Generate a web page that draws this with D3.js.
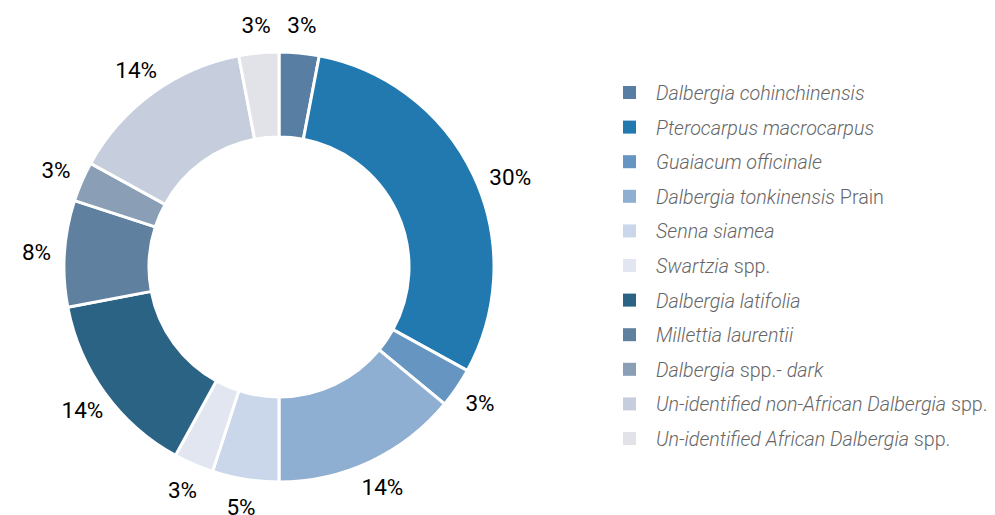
<!DOCTYPE html>
<html>
<head>
<meta charset="utf-8">
<script src="https://cdn.jsdelivr.net/npm/d3@7"></script>
<style>
  body { margin: 0; background: #fff; }
  svg { display: block; font-family: Roboto, "Noto Sans", sans-serif; }
</style>
</head>
<body>
<svg width="995" height="515"></svg>
<script>
// species (name split in italic / plain parts), share in %, slice colour
const species = [
    [["Dalbergia cohinchinensis", true]],
    [["Pterocarpus macrocarpus", true]],
    [["Guaiacum officinale", true]],
    [["Dalbergia tonkinensis", true], [" Prain", false]],
    [["Senna siamea", true]],
    [["Swartzia", true], [" spp.", false]],
    [["Dalbergia latifolia", true]],
    [["Millettia laurentii", true]],
    [["Dalbergia", true], [" spp.- ", false], ["dark", true]],
    [["Un-identified non-African ", true], ["Dalbergia", true], [" spp.", false]],
    [["Un-identified African ", true], ["Dalbergia", true], [" spp.", false]]
];
const shares = [3, 30, 3, 14, 5, 3, 14, 8, 3, 14, 3];
const colors = ["#587ea3", "#2179b0", "#6595c0", "#8eaed2", "#cad7ea", "#e2e6f0",
                "#2b6384", "#5f819f", "#8a9eb6", "#c6cedd", "#e1e3e9"];

const svg = d3.select("svg");
const cx = 279, cy = 267;
const outerR = 215, innerR = 130, labelR = 243;

const data = shares.map((v, i) => ({ i, v }));
const pie = d3.pie().value(d => d.v).sort(null);
const arc = d3.arc().innerRadius(innerR).outerRadius(outerR);
const labelArc = d3.arc().innerRadius(labelR).outerRadius(labelR);

const g = svg.append("g").attr("transform", `translate(${cx},${cy})`);

// slices
g.selectAll("path")
    .data(pie(data))
    .enter()
    .append("path")
    .attr("d", arc)
    .attr("fill", d => colors[d.data.i])
    .attr("stroke", "#fff")
    .attr("stroke-width", 3);

// percentage labels (the big slice label sits a bit further out, like the original)
g.selectAll(".lbl")
    .data(pie(data))
    .enter()
    .append("text")
    .attr("class", "lbl")
    .attr("transform", d => {
        if (d.data.v >= 25) {
            const a = (d.startAngle + d.endAngle) / 2 + 0.07;
            return `translate(${Math.sin(a) * 248},${-Math.cos(a) * 248})`;
        }
        return `translate(${labelArc.centroid(d)})`;
    })
    .attr("text-anchor", "middle")
    .attr("dy", "0.35em")
    .attr("fill", "#000")
    .style("font-size", "22.5px")
    .style("font-weight", 400)
    .text(d => d.data.v + "%");

// legend
const rowY = d3.scalePoint().domain(d3.range(species.length)).range([93, 439]);
const leg = svg.append("g");
const rows = leg.selectAll("g")
    .data(species)
    .enter()
    .append("g")
    .attr("transform", (d, i) => `translate(0,${rowY(i)})`);

rows.append("rect")
    .attr("x", 623)
    .attr("y", -7)
    .attr("width", 13)
    .attr("height", 13)
    .attr("fill", (d, i) => colors[i]);

rows.append("text")
    .attr("x", 656)
    .attr("dy", "0.35em")
    .attr("fill", "#666")
    .style("font-size", "19.7px")
    .style("font-weight", 300)
    .selectAll("tspan")
    .data(d => d)
    .enter()
    .append("tspan")
    .style("font-style", d => d[1] ? "italic" : "normal")
    .text(d => d[0]);
</script>
</body>
</html>
